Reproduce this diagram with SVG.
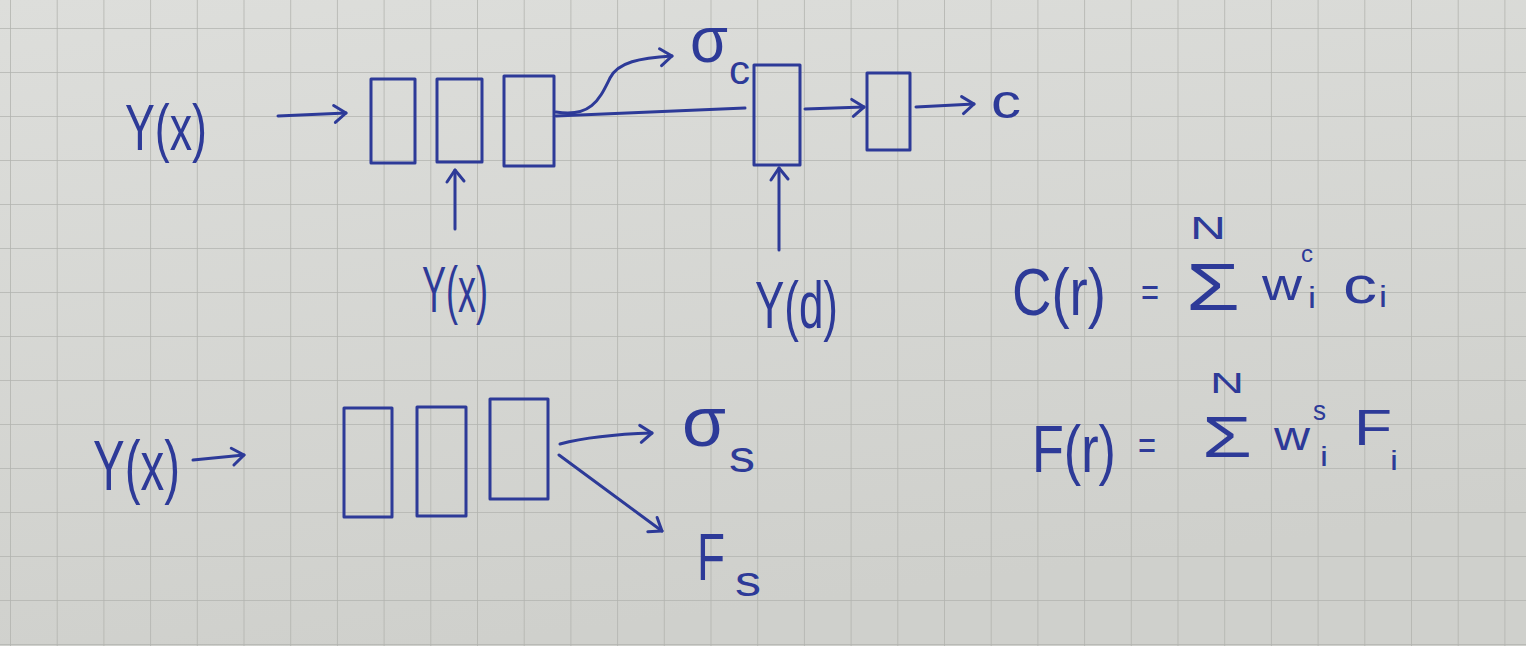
<svg xmlns="http://www.w3.org/2000/svg" width="1526" height="646" viewBox="0 0 1526 646">
  <defs>
    <linearGradient id="paper" x1="0" y1="0" x2="0.3" y2="1">
      <stop offset="0" stop-color="#dddedb"/>
      <stop offset="1" stop-color="#cfd0cc"/>
    </linearGradient>
    <pattern id="grid" patternUnits="userSpaceOnUse" x="10" y="28" width="46.7" height="44">
      <path d="M0,0 V44 M0,0 H46.7" fill="none" stroke="#b2b4af" stroke-width="1.6"/>
    </pattern>
    <marker id="arr" markerUnits="userSpaceOnUse" markerWidth="24" markerHeight="24" refX="12" refY="8" orient="auto" overflow="visible">
      <path d="M0,0 L12,8 L1,17" fill="none" stroke="#2d3a98" stroke-width="3" stroke-linecap="round" stroke-linejoin="round"/>
    </marker>
    <style>
      .ink { fill: none; stroke: #2d3a98; stroke-width: 3; stroke-linecap: round; stroke-linejoin: round; }
      .t { fill: #2d3a98; font-family: "Liberation Sans", "DejaVu Sans", sans-serif; }
    </style>
  </defs>

  <rect width="1526" height="646" fill="url(#paper)"/>
  <rect width="1526" height="646" fill="url(#grid)"/>

  <!-- Row 1 -->
  <g id="in-top"><text class="t" x="125" y="150" font-size="64" textLength="82" lengthAdjust="spacingAndGlyphs">Y(x)</text></g>
  <g id="top-box1"><rect class="ink" x="371" y="79" width="44" height="84"/></g>
  <g id="top-box2"><rect class="ink" x="437" y="79" width="45" height="83"/></g>
  <g id="top-box3"><rect class="ink" x="504" y="76" width="50" height="90"/></g>
  <g id="in-top-below"><text class="t" x="422" y="312" font-size="64" textLength="66" lengthAdjust="spacingAndGlyphs">Y(x)</text></g>
  <g id="sigma-c">
    <text class="t" x="690" y="62" font-size="64" textLength="38" lengthAdjust="spacingAndGlyphs">σ</text>
    <text class="t" x="729" y="84" font-size="40" textLength="21" lengthAdjust="spacingAndGlyphs">c</text>
  </g>
  <g id="big-box"><rect class="ink" x="754" y="65" width="46" height="100"/></g>
  <g id="in-d"><text class="t" x="755" y="328" font-size="66" textLength="83" lengthAdjust="spacingAndGlyphs">Y(d)</text></g>
  <g id="small-box"><rect class="ink" x="867" y="73" width="43" height="77"/></g>
  <g id="out-c"><text class="t" x="991" y="118" font-size="48" textLength="30" lengthAdjust="spacingAndGlyphs">c</text></g>

  <!-- Row 2 -->
  <g id="in-bottom"><text class="t" x="93" y="490" font-size="70" textLength="87" lengthAdjust="spacingAndGlyphs">Y(x)</text></g>
  <g id="bot-box1"><rect class="ink" x="344" y="408" width="48" height="109"/></g>
  <g id="bot-box2"><rect class="ink" x="417" y="407" width="49" height="109"/></g>
  <g id="bot-box3"><rect class="ink" x="490" y="399" width="58" height="100"/></g>
  <g id="sigma-s">
    <text class="t" x="682" y="446" font-size="70" textLength="44" lengthAdjust="spacingAndGlyphs">σ</text>
    <text class="t" x="729" y="472" font-size="44" textLength="26" lengthAdjust="spacingAndGlyphs">s</text>
  </g>
  <g id="f-s">
    <text class="t" x="697" y="580" font-size="66" textLength="28" lengthAdjust="spacingAndGlyphs">F</text>
    <text class="t" x="735" y="596" font-size="42" textLength="26" lengthAdjust="spacingAndGlyphs">s</text>
  </g>

  <!-- Equations -->
  <g id="eq-c">
    <text class="t" x="1012" y="315" font-size="66" textLength="94" lengthAdjust="spacingAndGlyphs">C(r)</text>
    <text class="t" x="1141" y="306" font-size="40" textLength="18" lengthAdjust="spacingAndGlyphs">=</text>
    <text class="t" x="1190" y="239" font-size="32" textLength="36" lengthAdjust="spacingAndGlyphs">N</text>
    <text class="t" x="1186" y="310" font-size="66" textLength="54" lengthAdjust="spacingAndGlyphs">Σ</text>
    <text class="t" x="1262" y="300" font-size="44" textLength="40" lengthAdjust="spacingAndGlyphs">w</text>
    <text class="t" x="1301" y="262" font-size="24" textLength="12" lengthAdjust="spacingAndGlyphs">c</text>
    <text class="t" x="1308" y="308" font-size="30" textLength="8" lengthAdjust="spacingAndGlyphs">i</text>
    <text class="t" x="1343" y="303" font-size="52" textLength="34" lengthAdjust="spacingAndGlyphs">c</text>
    <text class="t" x="1379" y="307" font-size="30" textLength="8" lengthAdjust="spacingAndGlyphs">i</text>
  </g>
  <g id="eq-f">
    <text class="t" x="1032" y="472" font-size="66" textLength="84" lengthAdjust="spacingAndGlyphs">F(r)</text>
    <text class="t" x="1138" y="459" font-size="40" textLength="18" lengthAdjust="spacingAndGlyphs">=</text>
    <text class="t" x="1210" y="393" font-size="30" textLength="34" lengthAdjust="spacingAndGlyphs">N</text>
    <text class="t" x="1202" y="457" font-size="58" textLength="50" lengthAdjust="spacingAndGlyphs">Σ</text>
    <text class="t" x="1274" y="450" font-size="40" textLength="36" lengthAdjust="spacingAndGlyphs">w</text>
    <text class="t" x="1313" y="420" font-size="28" textLength="13" lengthAdjust="spacingAndGlyphs">s</text>
    <text class="t" x="1320" y="466" font-size="28" textLength="8" lengthAdjust="spacingAndGlyphs">i</text>
    <text class="t" x="1354" y="445" font-size="50" textLength="38" lengthAdjust="spacingAndGlyphs">F</text>
    <text class="t" x="1390" y="470" font-size="28" textLength="8" lengthAdjust="spacingAndGlyphs">i</text>
  </g>

  <!-- Connectors -->
  <g id="connectors">
    <path class="ink" d="M278,116 L346,113" marker-end="url(#arr)"/>
    <path class="ink" d="M455,229 L455,170" marker-end="url(#arr)"/>
    <path class="ink" d="M556,112 C592,118 600,98 610,78 C618,62 640,58 672,56" marker-end="url(#arr)"/>
    <path class="ink" d="M556,116 L745,108"/>
    <path class="ink" d="M779,250 L779,168" marker-end="url(#arr)"/>
    <path class="ink" d="M805,109 L864,107" marker-end="url(#arr)"/>
    <path class="ink" d="M916,107 L974,104" marker-end="url(#arr)"/>
    <path class="ink" d="M193,460 L244,455" marker-end="url(#arr)"/>
    <path class="ink" d="M560,444 C590,436 620,434 652,433" marker-end="url(#arr)"/>
    <path class="ink" d="M559,455 L662,531" marker-end="url(#arr)"/>
  </g>
</svg>
